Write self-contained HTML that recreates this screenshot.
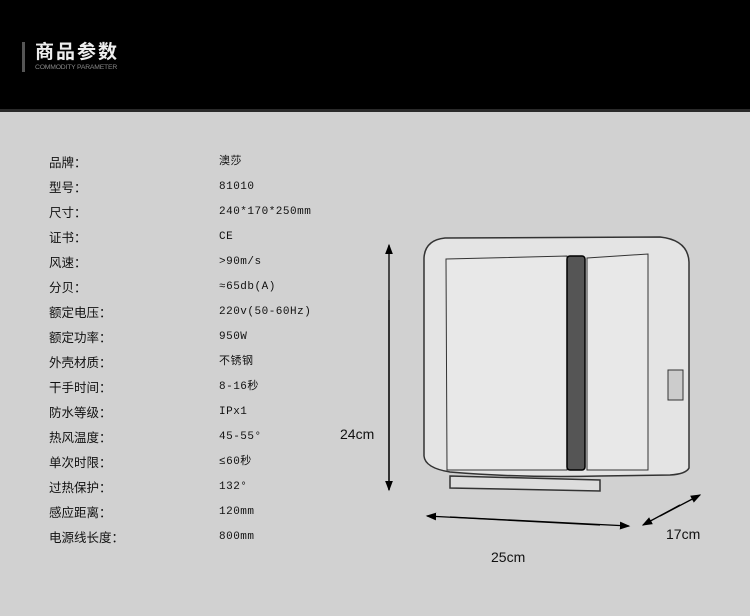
<!DOCTYPE html>
<html><head><meta charset="utf-8"><style>
body{margin:0;width:750px;height:616px;background:#d1d1d1;position:relative;overflow:hidden;font-family:"Liberation Sans","Noto Sans CJK SC",sans-serif}
.hd{position:absolute;left:0;top:0;width:750px;height:109px;background:#000}
.hl{position:absolute;left:0;top:109px;width:750px;height:3px;background:#2a2a2a}
.bar{position:absolute;left:22px;top:42px;width:3px;height:30px;background:#555}
.t{position:absolute;left:35px;top:37px;color:#eee;font-size:19px;letter-spacing:2px;font-weight:bold;font-family:"Noto Sans CJK SC",sans-serif}
.st{position:absolute;left:35px;top:64px;color:#888;font-size:6.8px;letter-spacing:-0.2px}
.l,.v{position:absolute;font-size:12px;color:#111;line-height:14px;font-family:"Noto Sans CJK SC","WenQuanYi Zen Hei",sans-serif}
.l{left:49px;font-size:12.5px}.v{left:219px;font-family:"Liberation Mono","Noto Sans CJK SC",monospace;font-size:11px;letter-spacing:0.5px}
.d{position:absolute;font-size:14px;color:#111}
</style></head><body>
<div class="hd"></div><div class="hl"></div><div class="bar"></div>
<div class="t">商品参数</div><div class="st">COMMODITY PARAMETER</div>
<div class="l" style="top:155px">品牌：</div><div class="v" style="top:155px">澳莎</div>
<div class="l" style="top:180px">型号：</div><div class="v" style="top:180px">81010</div>
<div class="l" style="top:205px">尺寸：</div><div class="v" style="top:205px">240*170*250mm</div>
<div class="l" style="top:230px">证书：</div><div class="v" style="top:230px">CE</div>
<div class="l" style="top:255px">风速：</div><div class="v" style="top:255px">&gt;90m/s</div>
<div class="l" style="top:280px">分贝：</div><div class="v" style="top:280px">≈65db(A)</div>
<div class="l" style="top:305px">额定电压：</div><div class="v" style="top:305px">220v(50-60Hz)</div>
<div class="l" style="top:330px">额定功率：</div><div class="v" style="top:330px">950W</div>
<div class="l" style="top:355px">外壳材质：</div><div class="v" style="top:355px">不锈钢</div>
<div class="l" style="top:380px">干手时间：</div><div class="v" style="top:380px">8-16秒</div>
<div class="l" style="top:405px">防水等级：</div><div class="v" style="top:405px">IPx1</div>
<div class="l" style="top:430px">热风温度：</div><div class="v" style="top:430px">45-55°</div>
<div class="l" style="top:455px">单次时限：</div><div class="v" style="top:455px">≤60秒</div>
<div class="l" style="top:480px">过热保护：</div><div class="v" style="top:480px">132°</div>
<div class="l" style="top:505px">感应距离：</div><div class="v" style="top:505px">120mm</div>
<div class="l" style="top:530px">电源线长度：</div><div class="v" style="top:530px">800mm</div>
<svg width="750" height="616" style="position:absolute;left:0;top:0">
<defs><marker id="a" markerWidth="8" markerHeight="8" refX="7" refY="4" orient="auto"><path d="M0,1 L8,4 L0,7z" fill="#000"/></marker></defs>
<g fill="none" stroke="#333" stroke-width="1.5">
<path d="M424,258 Q425,240 445,238 L660,237 Q688,240 689,262 L689,468 Q686,474 670,475 L600,476 Q520,478 450,472 Q425,468 424,456 Z" fill="#e4e4e4"/>
<path d="M446,259 L567,256 L567,470 L447,470 Z" fill="#e8e8e8" stroke-width="1"/>
<path d="M587,258 L648,254 L648,470 L587,470 Z" fill="#e8e8e8" stroke-width="1"/>
<rect x="567" y="256" width="18" height="214" rx="3" fill="#555" stroke="#000"/>
<path d="M450,476 L600,480 L600,491 L450,488 Z" fill="#ddd"/>
<rect x="668" y="370" width="15" height="30" fill="#ccc" stroke-width="1"/>
</g>
<g stroke="#000" stroke-width="1.3">
<line x1="389" y1="490" x2="389" y2="245" marker-end="url(#a)"/>
<line x1="389" y1="300" x2="389" y2="490" marker-end="url(#a)"/>
<line x1="600" y1="525" x2="427" y2="516" marker-end="url(#a)"/>
<line x1="450" y1="517" x2="629" y2="526" marker-end="url(#a)"/>
<line x1="680" y1="505" x2="643" y2="525" marker-end="url(#a)"/>
<line x1="660" y1="516" x2="700" y2="495" marker-end="url(#a)"/>
</g></svg>
<div class="d" style="left:340px;top:426px">24cm</div>
<div class="d" style="left:491px;top:549px">25cm</div>
<div class="d" style="left:666px;top:526px">17cm</div>
</body></html>
